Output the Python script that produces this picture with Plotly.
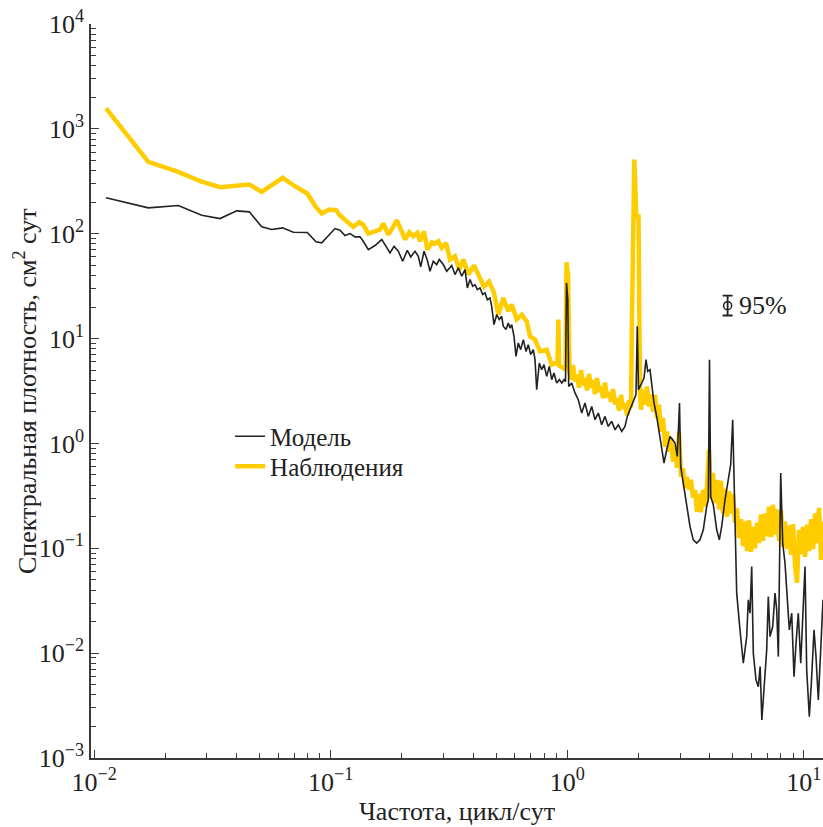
import plotly.graph_objects as go

# ---------------- data ----------------
obs_freq = [
    0.01123, 0.01695, 0.02269, 0.0285, 0.03405, 0.04529, 0.05109, 0.06268, 0.06949, 0.07962,
    0.08668, 0.09162, 0.09865, 0.1053, 0.1095,
    0.1169, 0.1246, 0.1321, 0.1373, 0.1442, 0.1539, 0.1616, 0.1668, 0.1751, 0.1810,
    0.1901, 0.1996, 0.2061, 0.2149, 0.2234, 0.2323, 0.2385, 0.2480, 0.2561, 0.2673,
    0.2760, 0.2850, 0.2945, 0.3071, 0.3192, 0.3352, 0.3495, 0.3634, 0.3816, 0.4034,
    0.4247, 0.4445, 0.4667, 0.4899, 0.5109, 0.5363, 0.5630, 0.5821, 0.6111, 0.6418,
    0.6737, 0.6957, 0.7303, 0.7666, 0.8181, 0.8594, 0.8959, 0.909, 0.9162, 0.9243,
    0.9405, 0.9685, 0.9826, 0.9922, 1.0069, 1.0216,
    1.0367, 1.0570, 1.0778, 1.0990, 1.1205, 1.1426, 1.1650, 1.1879, 1.2113, 1.2351,
    1.2594, 1.2841, 1.3094, 1.3351, 1.3614, 1.3881, 1.4154, 1.4432, 1.4716, 1.5005,
    1.5300, 1.5601, 1.5907, 1.6220, 1.6539, 1.6864, 1.7195, 1.7533, 1.7878, 1.8229,
    1.8587, 1.8769, 1.9200, 1.9578, 1.9995, 2.0292,
    2.0489, 2.0891, 2.1301, 2.1720, 2.2147, 2.2583, 2.3027, 2.3480, 2.3942, 2.4413,
    2.4893, 2.5383, 2.5882, 2.6391, 2.6910, 2.7439, 2.7979, 2.8530, 2.9091, 2.9655,
    3.0237, 3.0832, 3.1438, 3.2054, 3.2685, 3.3328, 3.3983, 3.4652, 3.5333, 3.6028,
    3.6737, 3.7460, 3.8196, 3.8948, 3.9709, 4.0490, 4.1285, 4.2097, 4.2926, 4.3770,
    4.4628, 4.5505, 4.6400, 4.7313, 4.8243, 4.9192, 5.0156, 5.1142, 5.2148, 5.3171,
    5.4216, 5.5283, 5.6369, 5.7478, 5.8609, 5.9761, 6.0935, 6.2133, 6.3355, 6.4602,
    6.5874, 6.7168, 6.8484, 6.9830, 7.1203, 7.2603, 7.4029, 7.5486, 7.6972, 7.8483,
    8.0024, 8.1596, 8.3200, 8.4836, 8.6501, 8.8202, 8.9939, 9.1706, 9.3509, 9.5348,
    9.7219, 9.9131, 10.108, 10.306, 10.509, 10.716, 10.927, 11.141, 11.360, 11.584,
    11.811, 12.043,
]
obs_psd = [
    1565, 485, 389, 313, 277.5, 294.6, 251, 341.5, 290, 241.7,
    178.9, 155.8, 170.1, 167.5, 149.1,
    131.5, 116.3, 128.7, 122.3, 100.4, 105.5, 109.6, 125.0, 98.2, 109.6,
    134.4, 105.5, 88.0, 103.3, 94.6, 101.9, 84.7, 105.5, 70.6, 82.9,
    80.5, 84.7, 73.3, 81.8, 56.7, 60.9, 45.5, 56.7, 40.8, 49.7,
    39.0, 31.3, 34.9, 27.3, 16.9, 24.4, 18.2, 21.1, 15.2, 16.9,
    14.6, 10.5, 9.77, 7.55, 7.84, 5.64, 5.85, 5.76, 15.2, 5.51,
    5.40, 5.05, 5.05, 53.4, 40.8, 4.83,
    4.06, 5.6, 3.9, 4.5, 3.4, 5.0, 3.6, 4.2, 3.2, 4.6,
    3.4, 4.0, 2.95, 4.2, 3.1, 3.5, 2.7, 3.8, 2.75, 3.1,
    2.5, 3.3, 2.35, 2.7, 2.05, 2.9, 2.15, 2.4, 1.85, 2.6,
    2.2, 16.3, 510, 145.8, 145.8, 3.12,
    2.097, 3.255, 2.342, 3.5, 2.25, 2.95, 2.007, 2.9, 1.75, 2.342,
    1.293, 1.75, 0.930, 1.30, 0.833, 1.12, 0.669, 0.94, 0.586, 1.293,
    0.481, 0.58, 0.378, 0.48, 0.362, 0.45, 0.303, 0.36, 0.223, 0.33,
    0.22, 0.362, 0.25, 0.40, 0.871, 0.30, 0.52, 0.27, 0.45, 0.235,
    0.44, 0.215, 0.37, 0.20, 0.35, 0.215, 0.33, 0.175, 0.24, 0.125,
    0.19, 0.105, 0.18, 0.094, 0.185, 0.0926, 0.16, 0.10, 0.175, 0.112,
    0.21, 0.118, 0.215, 0.13, 0.25, 0.128, 0.26, 0.135, 0.235, 0.118,
    0.228, 0.104, 0.18, 0.099, 0.165, 0.0866, 0.17, 0.0696, 0.0468, 0.15,
    0.088, 0.16, 0.083, 0.168, 0.094, 0.19, 0.098, 0.215, 0.112, 0.243,
    0.0776, 0.179,
]

mod_freq = [
    0.01123, 0.01695, 0.02269, 0.0285, 0.03405, 0.04006, 0.04529, 0.05109, 0.05631, 0.06268,
    0.06949, 0.07962, 0.08668, 0.09162, 0.1043, 0.1095, 0.1149, 0.1207, 0.1267, 0.1330,
    0.1373, 0.1442, 0.1539, 0.1643, 0.1696, 0.1781, 0.1852, 0.1931, 0.2015, 0.2108,
    0.2179, 0.2272, 0.2346, 0.2401, 0.2480, 0.2561, 0.2628, 0.2714, 0.2805, 0.2877,
    0.2992, 0.3093, 0.3247, 0.3352, 0.3463, 0.3579, 0.3696, 0.3780, 0.3880, 0.3983,
    0.4073, 0.4165, 0.4276, 0.4390, 0.4489, 0.4591, 0.4713, 0.4791, 0.4899, 0.5030,
    0.5159, 0.5281, 0.5363, 0.5507, 0.5630, 0.5725, 0.5821, 0.5953, 0.6070, 0.6207,
    0.6354, 0.6516, 0.6690, 0.6841, 0.7003, 0.7182, 0.7303, 0.7424, 0.7614, 0.7795,
    0.7971, 0.8181, 0.8392, 0.8594, 0.8784, 0.9018, 0.9252, 0.9470, 0.9685, 0.9826,
    0.9922, 1.0049, 1.0137, 1.0438, 1.0778, 1.1129, 1.1503, 1.1879, 1.2268, 1.2680,
    1.3094, 1.3522, 1.3976, 1.4432, 1.4901, 1.5402, 1.5907, 1.6432, 1.6985, 1.7533,
    1.7929, 1.8408, 1.9007, 1.9510, 1.9758, 1.9995, 2.0624, 2.1096, 2.1511, 2.1870,
    2.2365, 2.2738, 2.3252, 2.3870, 2.4648, 2.5305, 2.5628, 2.6310, 2.7168, 2.7891,
    2.8530, 2.9168, 2.980, 3.0149, 3.0922, 3.1961, 3.3004, 3.4079, 3.5224, 3.6375,
    3.7563, 3.8819, 3.9440, 3.9903, 4.0372, 4.1406, 4.2798, 4.3900, 4.4934, 4.6400,
    4.7916, 4.9046, 5.0010, 5.0647, 5.1995, 5.3692, 5.5445, 5.7301, 5.8206, 5.9182,
    6.0170, 6.1114, 6.2742, 6.4160, 6.5323, 6.6413, 6.7822, 6.9625, 7.0719, 7.1898,
    7.3812, 7.5486, 7.6751, 7.7981, 7.9790, 8.1358, 8.3200, 8.5082, 8.6754, 8.8805,
    9.0818, 9.2603, 9.4698, 9.6944, 9.8843, 10.108, 10.276, 10.540, 10.789, 11.033,
    11.250, 11.505, 11.777, 12.043,
]
mod_psd = [
    219.9, 176.5, 185.7, 150.1, 139.5, 165.3, 161.7, 116.3, 109.6, 113.7,
    103.3, 102.6, 83.6, 81.8, 112.0, 107.9, 96.0, 100.4, 93.3, 93.3,
    84.7, 70.6, 77.1, 88.0, 78.8, 65.7, 75.9, 68.0, 54.6, 69.5,
    60.1, 68.0, 60.9, 48.3, 68.0, 55.8, 43.8, 54.6, 50.8, 56.7,
    50.8, 43.8, 49.7, 40.8, 47.2, 39.3, 45.5, 30.4, 36.5, 31.5,
    32.7, 29.3, 30.4, 26.3, 27.3, 23.5, 24.4, 20.3, 13.6, 16.9,
    15.2, 16.3, 13.1, 12.2, 14.1, 12.6, 13.6, 10.5, 6.77, 9.08,
    7.84, 9.77, 7.55, 8.75, 7.02, 7.84, 6.29, 3.255, 5.85, 5.05,
    5.64, 4.36, 5.43, 4.06, 4.70, 3.77, 4.06, 3.77, 4.06, 3.88,
    33.96, 23.5, 3.50, 3.77, 3.03, 2.61, 1.950, 2.430, 1.810, 2.255,
    1.684, 1.950, 1.508, 1.810, 1.453, 1.622, 1.351, 1.508, 1.302, 1.453,
    1.810, 2.097, 2.430, 2.92, 13.1, 3.255, 3.77, 4.21, 6.29, 4.87,
    5.05, 3.77, 2.430, 1.810, 1.085, 0.7515, 0.6502, 0.8706, 1.166, 1.085,
    1.0088, 0.7515, 2.430, 0.6031, 0.4188, 0.2504, 0.1614, 0.1204, 0.1120, 0.1204,
    0.1501, 0.2504, 0.2902, 6.29, 0.3099, 0.2601, 0.1501, 0.1204, 0.1614, 0.2902,
    0.4503, 0.6261, 1.684, 0.4503, 0.03733, 0.01667, 0.008017, 0.01438, 0.03223, 0.02405,
    0.06699, 0.009986, 0.005555, 0.004793, 0.007437, 0.002306, 0.004457, 0.01074, 0.03464, 0.01438,
    0.01792, 0.03733, 0.02586, 0.009268, 0.5219, 0.1120, 0.07219, 0.03464, 0.01667, 0.02405,
    0.005971, 0.01244, 0.02405, 0.008017, 0.02405, 0.06699, 0.006918, 0.002479, 0.005971, 0.01667,
    0.009268, 0.003579, 0.01074, 0.03223,
]

# 95 % confidence marker
ci_freq = [4.76]
ci_value = [20.6]
ci_plus = [5.1]
ci_minus = [4.0]
ci_label = "95%"

y_tick_vals = [1e-3, 1e-2, 1e-1, 1e0, 1e1, 1e2, 1e3, 1e4]
y_tick_text = ["10<sup>\u22123</sup>", "10<sup>\u22122</sup>", "10<sup>\u22121</sup>", "10<sup>0</sup>",
               "10<sup>1</sup>", "10<sup>2</sup>", "10<sup>3</sup>", "10<sup>4</sup>"]
x_tick_vals = [1e-2, 1e-1, 1e0, 1e1]
x_tick_text = ["10<sup>\u22122</sup>", "10<sup>\u22121</sup>", "10<sup>0</sup>", "10<sup>1</sup>"]

name_model = "Модель"
name_obs = "Наблюдения"
x_title = "Частота, цикл/сут"
y_title = "Спектральная плотность, см<sup>2</sup> сут"

# ---------------- figure ----------------
FONT = "Liberation Serif, Times New Roman, serif"
YELLOW = "#FFCC00"
DARK = "#222222"
AXIS = "#3a3a3a"

minor_y = [k * 10.0 ** e for e in range(-3, 4) for k in range(2, 10)]
minor_x = [k * 10.0 ** e for e in range(-2, 2) for k in range(2, 10)]

fig = go.Figure()
fig.add_trace(go.Scatter(x=obs_freq, y=obs_psd, mode="lines", name=name_obs,
                         line=dict(color=YELLOW, width=4.5), legend="legend2"))
fig.add_trace(go.Scatter(x=mod_freq, y=mod_psd, mode="lines", name=name_model,
                         line=dict(color=DARK, width=1.6), legend="legend"))
fig.add_trace(go.Scatter(x=ci_freq, y=ci_value, mode="markers", showlegend=False,
                         marker=dict(symbol="circle-open", size=8, color=DARK, line=dict(width=1.5)),
                         error_y=dict(type="data", symmetric=False, array=ci_plus, arrayminus=ci_minus,
                                      color=DARK, thickness=1.8, width=5)))

fig.add_annotation(x=0.7172, y=1.3139, xref="x", yref="y", text=ci_label, showarrow=False,
                   xanchor="left", yanchor="middle", font=dict(family=FONT, size=26, color=DARK))
fig.add_annotation(x=-0.09, y=0.5, xref="paper", yref="paper", text=y_title, showarrow=False,
                   textangle=-90, xanchor="center", yanchor="middle",
                   font=dict(family=FONT, size=26, color=DARK))

legend_style = dict(xanchor="left", yanchor="top", bgcolor="rgba(0,0,0,0)",
                    font=dict(family=FONT, size=25, color=DARK))

fig.update_layout(
    width=823, height=827,
    margin=dict(l=91, r=0, t=24, b=69),
    paper_bgcolor="white", plot_bgcolor="white",
    font=dict(family=FONT, size=25, color=DARK),
    showlegend=True,
    legend=dict(x=0.19, y=0.4693, **legend_style),
    legend2=dict(x=0.19, y=0.4285, **legend_style),
    xaxis=dict(type="log", range=[-2.0131, 1.0807], showgrid=False, zeroline=False,
               showline=True, linecolor=AXIS, linewidth=1.5,
               ticks="inside", ticklen=8, tickwidth=1.3, tickcolor=AXIS,
               tickmode="array", tickvals=x_tick_vals, ticktext=x_tick_text,
               tickfont=dict(family=FONT, size=26, color=DARK),
               minor=dict(tickmode="array", tickvals=minor_x, ticks="inside", ticklen=5,
                          tickwidth=1.2, tickcolor=AXIS, showgrid=False),
               title=dict(text=x_title, font=dict(family=FONT, size=26, color=DARK), standoff=6)),
    yaxis=dict(type="log", range=[-3, 4], showgrid=False, zeroline=False,
               showline=True, linecolor=AXIS, linewidth=1.5,
               ticks="inside", ticklen=8, tickwidth=1.3, tickcolor=AXIS,
               tickmode="array", tickvals=y_tick_vals, ticktext=y_tick_text,
               tickfont=dict(family=FONT, size=26, color=DARK),
               minor=dict(tickmode="array", tickvals=minor_y, ticks="inside", ticklen=5,
                          tickwidth=1.2, tickcolor=AXIS, showgrid=False)),
)

fig.write_html("out.html")
